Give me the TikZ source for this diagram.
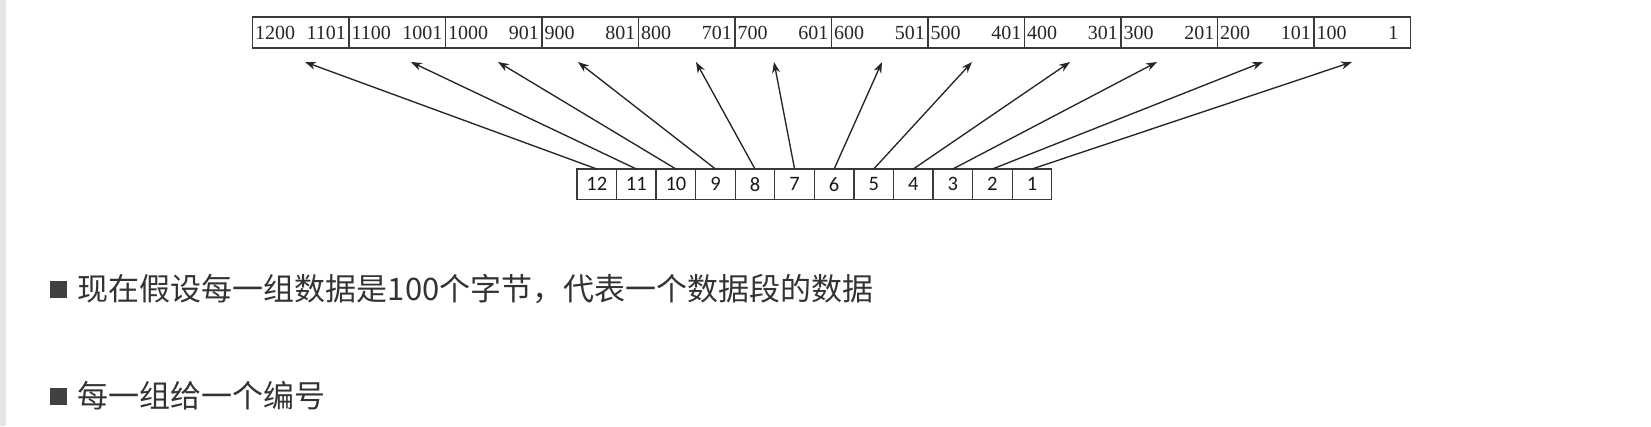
\documentclass[tikz,border=0pt]{standalone}
\usepackage{fontspec}
\setmainfont{Liberation Serif}
\newfontfamily\boxfont{Carlito}
\newfontfamily\cjkfont{Noto Sans CJK SC}
\usetikzlibrary{positioning,arrows.meta}
\definecolor{txtgray}{HTML}{333333}
\definecolor{linegray}{HTML}{3A3A3A}
\tikzset{
  seg/.style={draw=linegray, line width=1.3pt, minimum width=96.5pt, minimum height=31pt, inner sep=0pt, outer sep=0pt},
  num/.style={font=\fontsize{20}{20}\selectfont, text=black!85},
  grp/.style={draw=linegray, line width=1.3pt, minimum width=39.56pt, minimum height=30.5pt, inner sep=0pt, outer sep=0pt, font=\boxfont\fontsize{20.5}{20.5}\selectfont, text=black!90},
  ptr/.style={-{Stealth[length=11pt,width=8pt]}, line width=1.35pt, draw=black!85},
  bullet/.style={fill=black!75, minimum size=17pt, inner sep=0pt},
  point/.style={font=\cjkfont\fontsize{31}{31}\selectfont, text=txtgray, inner sep=0pt}
}
\begin{document}
\begin{tikzpicture}[x=1pt,y=-1pt]
\useasboundingbox (0,0) rectangle (1651,426);
\fill[black!10] (0,0) rectangle (6,426);
% byte ranges
\foreach \i in {1,...,12} {
  \pgfmathtruncatemacro\hi{\i*100}
  \pgfmathtruncatemacro\lo{\hi-99}
  \pgfmathsetmacro\pad{\i==1 ? 12 : 3}
  \node[seg, anchor=north west] (s\i) at ({252.5+(12-\i)*96.5},17) {};
  \node[num, anchor=west, inner sep=2.5pt] (hi\i) at (s\i.west) {\hi};
  \node[num, anchor=east, inner sep=\pad pt] (lo\i) at (s\i.east) {\lo};
}
% group numbers
\foreach \i in {1,...,12} {
  \node[grp, anchor=north west] (g\i) at ({577+(12-\i)*39.56},169) {\i};
}
\foreach \i/\tx in {12/305,11/411,10/498,9/578,8/696,7/774,6/882,5/972,4/1070,3/1157,2/1263,1/1352} {
  \coordinate (t\i) at (\tx,62);
  \draw[ptr] (g\i.north) -- (t\i);
}
% notes
\node[bullet] (b1) at (58,289) {};
\node[point, right=11pt of b1] (l1) {现在假设每一组数据是100个字节，代表一个数据段的数据};
\node[bullet] (b2) at (58,396) {};
\node[point, right=11pt of b2] (l2) {每一组给一个编号};
\end{tikzpicture}
\end{document}
